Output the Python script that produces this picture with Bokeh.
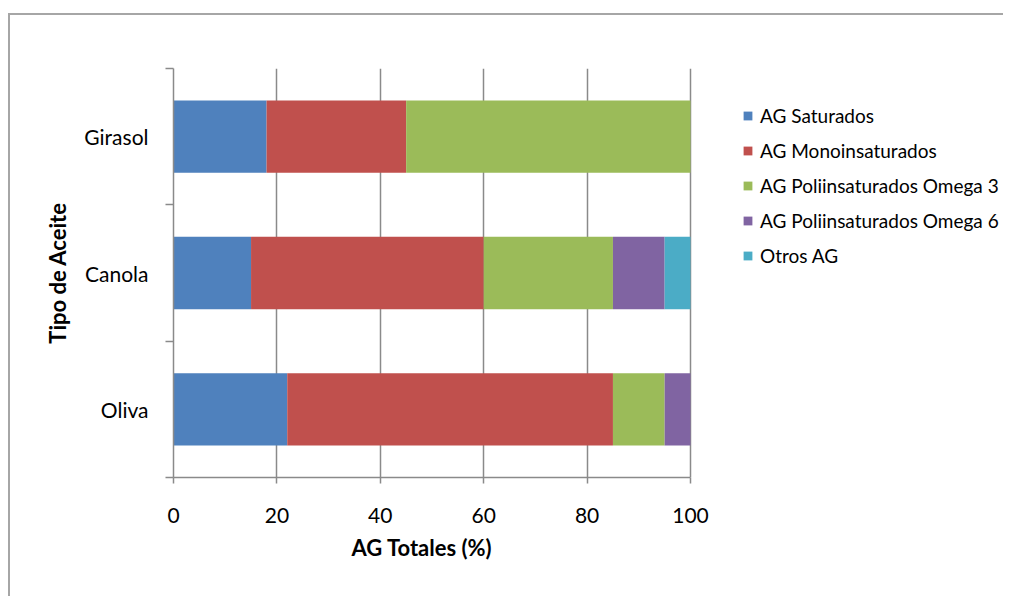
from bokeh.plotting import figure
from bokeh.models import Range1d, FixedTicker, Legend, LegendItem, ColumnDataSource, Title
from bokeh.embed import file_html
from bokeh.resources import INLINE

# ---- data ----
categories = ["Girasol", "Canola", "Oliva"]
saturados = [18, 15, 22]
monoinsaturados = [27, 45, 63]
omega3 = [55, 25, 10]
omega6 = [0, 10, 5]
otros = [0, 5, 0]
series_names = ["AG Saturados", "AG Monoinsaturados", "AG Poliinsaturados Omega 3",
                "AG Poliinsaturados Omega 6", "Otros AG"]
colors = ["#4F81BD", "#C0504D", "#9BBB59", "#8064A2", "#4BACC6"]
x_ticks = [0, 20, 40, 60, 80, 100]
x_title = "AG Totales (%)"
y_title = "Tipo de Aceite"

n = len(categories)
ypos = [n - i - 0.5 for i in range(n)]
keys = ["s0", "s1", "s2", "s3", "s4"]
src = ColumnDataSource(dict(y=ypos, s0=saturados, s1=monoinsaturados, s2=omega3,
                            s3=omega6, s4=otros))

FONT = "Lato"
GRAY = "#8a8a8a"

W, H = 1003, 596
LEFT, TOP, BOTTOM = 173, 68, 477
AXIS_PX = 517                     # pixels spanned by 0..100
FRAME_PX = W - LEFT               # frame extends to the right edge (legend lives inside)
x_max = x_ticks[-1]
x_end = x_max * FRAME_PX / AXIS_PX

p = figure(width=W, height=H, output_backend="svg", toolbar_location=None,
           x_range=Range1d(0, x_end), y_range=Range1d(0, n))
p.styles = {"box-shadow": "inset 8px 13px 0 0 #ffffff, inset 10px 15px 0 0 #a6a6a6"}
p.min_border_left = LEFT
p.min_border_right = 0
p.min_border_top = TOP
p.min_border_bottom = H - BOTTOM
p.outline_line_color = None
p.background_fill_alpha = 0
p.border_fill_alpha = 0

renderers = p.hbar_stack(keys, y="y", height=0.53, color=colors, line_color=None, source=src)

legend = Legend(items=[LegendItem(label=nm, renderers=[r]) for nm, r in zip(series_names, renderers)],
                location=(569, 210), orientation="vertical")
legend.padding = 0
legend.margin = 0
legend.border_line_color = None
legend.background_fill_alpha = 0
legend.glyph_width = 11
legend.glyph_height = 11
legend.label_standoff = 7
legend.label_height = 23
legend.spacing = 12
legend.label_text_font = FONT
legend.label_text_font_size = "19px"
legend.label_text_color = "#000000"
p.add_layout(legend)

# x axis
p.xaxis.bounds = (0, x_max)
p.xaxis.ticker = FixedTicker(ticks=x_ticks, minor_ticks=[])
p.xgrid.ticker = FixedTicker(ticks=x_ticks, minor_ticks=[])
p.xgrid.grid_line_color = GRAY
p.xgrid.grid_line_width = 1.5
p.ygrid.visible = False
p.xaxis.axis_line_color = GRAY
p.xaxis.axis_line_width = 1.5
p.xaxis.major_tick_line_color = GRAY
p.xaxis.major_tick_line_width = 1.5
p.xaxis.major_tick_out = 6
p.xaxis.major_tick_in = 0
p.xaxis.minor_tick_line_color = None
p.xaxis.major_label_standoff = 24
p.xaxis.major_label_text_font = FONT
p.xaxis.major_label_text_font_size = "21px"
p.xaxis.major_label_text_color = "#000000"

# x axis title, placed under the 0..100 part of the frame
xt = Title(text=x_title, align="left", offset=178, standoff=12)
xt.text_font = FONT
xt.text_font_style = "bold"
xt.text_font_size = "22px"
xt.text_color = "#000000"
p.add_layout(xt, "below")

# y axis
p.yaxis.ticker = FixedTicker(ticks=ypos, minor_ticks=list(range(n + 1)))
p.yaxis.major_label_overrides = {ypos[i]: categories[i] for i in range(n)}
p.yaxis.axis_line_color = GRAY
p.yaxis.axis_line_width = 1.5
p.yaxis.major_tick_line_color = None
p.yaxis.major_tick_out = 0
p.yaxis.major_tick_in = 0
p.yaxis.minor_tick_line_color = GRAY
p.yaxis.minor_tick_line_width = 1.5
p.yaxis.minor_tick_out = 8
p.yaxis.minor_tick_in = 0
p.yaxis.major_label_standoff = 17
p.yaxis.major_label_text_font = FONT
p.yaxis.major_label_text_font_size = "21px"
p.yaxis.major_label_text_color = "#000000"
p.yaxis.axis_label = y_title
p.yaxis.axis_label_text_font = FONT
p.yaxis.axis_label_text_font_style = "bold"
p.yaxis.axis_label_text_font_size = "22px"
p.yaxis.axis_label_text_color = "#000000"
p.yaxis.axis_label_standoff = 10

open("out.html", "w").write(file_html(p, INLINE))
